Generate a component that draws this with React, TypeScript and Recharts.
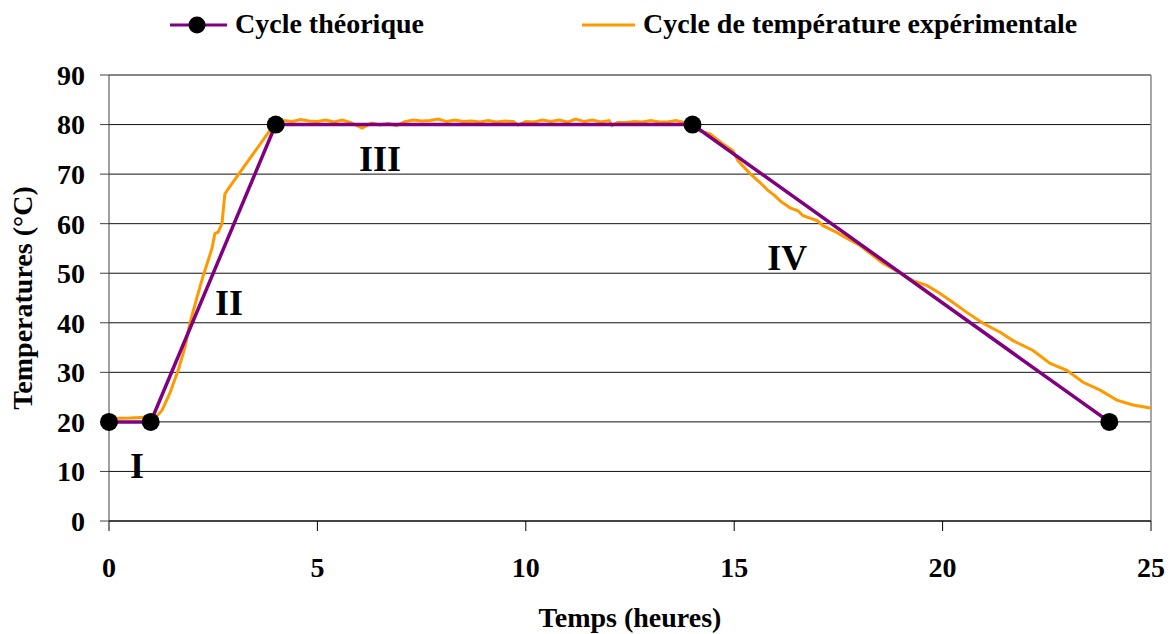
import React from 'react'
import { LineChart, Line, XAxis, YAxis, CartesianGrid, Legend, ReferenceLine, ReferenceDot } from 'recharts'

const FONT = '"Liberation Serif", "Times New Roman", serif'
const PURPLE = '#800080'
const ORANGE = '#FF9900'

// theoretical cycle (hours, °C)
const theoTime = [0, 1, 4, 14, 24]
const theoTemp = [20, 20, 80, 80, 20]

const expTime = [
  0, 0.5, 1.0, 1.15, 1.27, 1.46, 1.66, 1.82, 1.94, 2.11, 2.26, 2.38, 2.47, 2.54, 2.62, 2.71, 2.78, 2.86, 3.96,
  4.2, 4.4, 4.6, 4.8, 5.0, 5.2, 5.4, 5.6, 5.8, 6.07, 6.3, 6.5, 6.7, 6.9, 7.1, 7.3, 7.5, 7.7, 7.9,
  8.1, 8.3, 8.5, 8.7, 8.9, 9.1, 9.3, 9.5, 9.7, 9.81, 10.0, 10.2, 10.4, 10.6, 10.8, 11.0, 11.2, 11.4,
  11.6, 11.8, 12.0, 12.07, 12.2, 12.4, 12.6, 12.8, 13.0, 13.2, 13.4, 13.6, 13.8, 14.0,
  14.18, 14.42, 14.73, 14.97, 15.09, 15.38, 15.62, 15.81, 15.98, 16.1, 16.34, 16.53, 16.65, 16.99,
  17.13, 17.47, 17.71, 18.02, 18.26, 18.57, 18.98, 19.29, 19.63, 19.94, 20.25, 20.58, 20.97, 21.38,
  21.69, 22.17, 22.58, 22.98, 23.37, 23.78, 24.18, 24.57, 24.98, 25.25,
]
const expTemp = [
  20.7, 20.8, 21.0, 21.2, 22.3, 25.8, 30.4, 35.0, 39.9, 45.1, 49.5, 52.6, 55.0, 58.0, 58.3, 60.0, 66.0, 67.0, 80.0,
  80.8, 80.6, 81.0, 80.7, 80.6, 80.9, 80.5, 80.9, 80.4, 79.3, 80.3, 79.9, 80.2, 79.8, 80.6, 80.9, 80.7, 80.8, 81.1,
  80.6, 80.9, 80.6, 80.7, 80.5, 80.8, 80.5, 80.7, 80.6, 79.9, 80.6, 80.5, 80.9, 80.6, 80.9, 80.5, 81.1, 80.6,
  80.9, 80.5, 80.8, 79.8, 80.4, 80.4, 80.6, 80.5, 80.8, 80.5, 80.5, 80.8, 80.4, 80.3,
  78.7, 78.1, 76.1, 74.7, 72.7, 70.1, 68.3, 66.7, 65.6, 64.6, 63.2, 62.6, 61.6, 60.6,
  59.6, 58.2, 57.0, 55.6, 54.0, 52.0, 50.1, 48.5, 47.5, 45.9, 44.1, 42.1, 39.9, 38.1,
  36.4, 34.4, 31.8, 30.4, 28.0, 26.4, 24.4, 23.4, 22.8, 22.2,
]

const xTicks = [0, 5, 10, 15, 20, 25]
const yTicks = [0, 10, 20, 30, 40, 50, 60, 70, 80, 90]

// phase labels on the chart
const phaseNames = ['I', 'II', 'III', 'IV']
const phaseX = [0.67, 2.88, 6.5, 16.27]
const phaseY = [11, 44, 73, 53]

const theoData = theoTime.map((t, i) => ({ t, v: theoTemp[i] }))
const expData = expTime.map((t, i) => ({ t, v: expTemp[i] }))

const TICK = { fontSize: 28, fontFamily: FONT, fontWeight: 'bold' as const, fill: '#000' }

function LegendBox() {
  return (
    <svg width={1174} height={50} style={{ display: 'block' }}>
      <line x1={170} y1={25} x2={227} y2={25} stroke={PURPLE} strokeWidth={3} />
      <circle cx={197} cy={25} r={8.5} fill="#000" />
      <text x={235} y={33} fontSize={28} fontFamily={FONT} fontWeight="bold">Cycle théorique</text>
      <line x1={582} y1={25} x2={635} y2={25} stroke={ORANGE} strokeWidth={3} />
      <text x={643} y={33} fontSize={28} fontFamily={FONT} fontWeight="bold">Cycle de température expérimentale</text>
    </svg>
  )
}

export default function App() {
  return (
    <div style={{ position: 'absolute', left: 0, top: 0, width: 1174, height: 634, background: '#fff' }}>
      <LineChart width={1174} height={634} margin={{ top: 75, right: 23, bottom: 53, left: 0 }}>
        <CartesianGrid vertical={false} stroke="#111" />
        <XAxis type="number" dataKey="t" domain={[0, 25]} allowDataOverflow ticks={xTicks} height={60}
          tick={TICK} tickSize={10} tickMargin={26} stroke="#000" interval={0}
          label={() => (
            <text x={630} y={627} textAnchor="middle" fontSize={28} fontFamily={FONT} fontWeight="bold">Temps (heures)</text>
          )}
        />
        <YAxis type="number" domain={[0, 90]} ticks={yTicks} width={109} interval={0}
          tick={TICK} tickSize={9} tickMargin={15} stroke="#404040"
          label={() => (
            <text x={22} y={298} transform="rotate(-90 22 298)" textAnchor="middle" dominantBaseline="central"
              fontSize={28} fontFamily={FONT} fontWeight="bold">Temperatures (°C)</text>
          )}
        />
        <ReferenceLine x={25} stroke="#888" strokeWidth={1.5} />
        <Legend verticalAlign="middle" align="center" layout="horizontal"
          wrapperStyle={{ top: 0, left: 0, width: 1174, height: 50 }} content={() => <LegendBox />} />
        <Line data={expData} dataKey="v" type="linear" stroke={ORANGE} strokeWidth={3} dot={false}
          isAnimationActive={false} legendType="none" />
        <Line data={theoData} dataKey="v" type="linear" stroke={PURPLE} strokeWidth={3.5}
          dot={{ r: 9, fill: '#000', stroke: 'none', clipDot: false }} activeDot={false} isAnimationActive={false} />
        {phaseNames.map((n, i) => (
          <ReferenceDot key={n} x={phaseX[i]} y={phaseY[i]} r={0}
            shape={(p: any) => (
              <text x={p.cx} y={p.cy} textAnchor="middle" dominantBaseline="central"
                fontSize={36} fontFamily={FONT} fontWeight="bold" fill="#000">{n}</text>
            )}
          />
        ))}
      </LineChart>
    </div>
  )
}
